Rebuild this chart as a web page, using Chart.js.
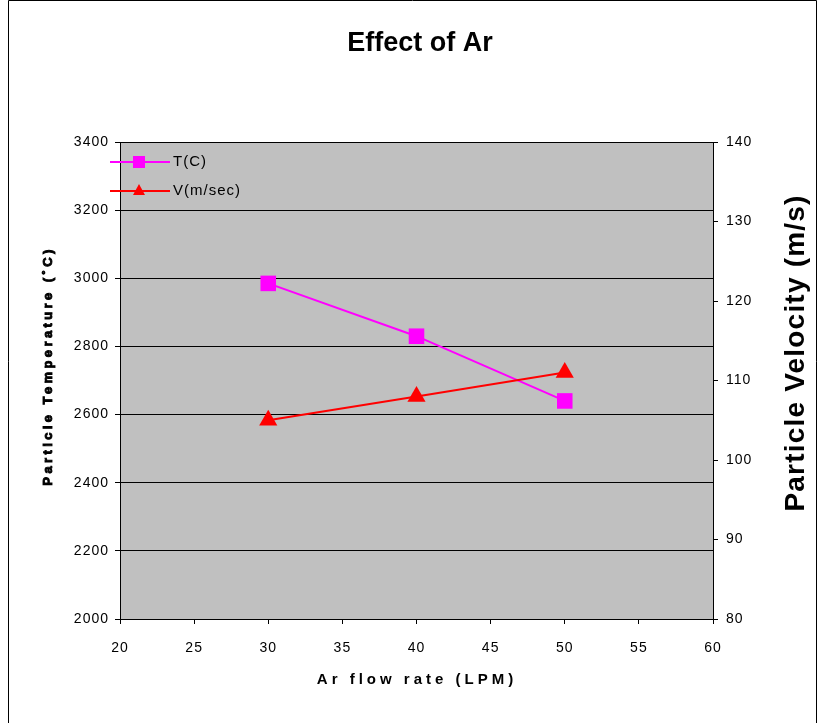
<!DOCTYPE html>
<html>
<head>
<meta charset="utf-8">
<script src="https://cdn.jsdelivr.net/npm/chart.js"></script>
<style>
  html, body { margin: 0; padding: 0; background: #fff; }
  #wrap { width: 818px; height: 723px; }
</style>
</head>
<body>
<div id="wrap"><canvas id="chart" width="818" height="723"></canvas></div>
<script>
// Ar flow rate (LPM)
const flowRates = [30, 40, 50];
// particle temperature, left axis
const temperatures = [2985, 2830, 2640];
// particle velocity, right axis
const velocities = [105, 108, 111];

const tempLabel = 'T(C)';
const velLabel = 'V(m/sec)';

const FONT = '"Liberation Sans", Arial, sans-serif';
const MAGENTA = '#FF00FF';
const RED = '#FF0000';

// gray plot area, outer frame, titles and the legend box
const decorations = {
    id: 'decorations',
    beforeDraw(chart) {
        const { ctx, chartArea: a } = chart;
        ctx.save();
        ctx.fillStyle = '#C0C0C0';
        ctx.fillRect(a.left, a.top, a.right - a.left, a.bottom - a.top);
        ctx.restore();
        // tick labels in the reference are slightly spaced out
        ctx.letterSpacing = '1px';
    },
    afterDraw(chart) {
        const { ctx } = chart;
        ctx.save();
        ctx.letterSpacing = '0px';

        // frame round the picture
        ctx.strokeStyle = '#000';
        ctx.lineWidth = 1;
        ctx.beginPath();
        ctx.moveTo(8.5, 723);
        ctx.lineTo(8.5, 0.5);
        ctx.lineTo(816.5, 0.5);
        ctx.lineTo(816.5, 723);
        ctx.stroke();

        ctx.fillStyle = '#000';
        ctx.textAlign = 'center';

        // chart title
        ctx.textBaseline = 'alphabetic';
        ctx.font = 'bold 27px ' + FONT;
        ctx.fillText('Effect of Ar', 420, 51);

        ctx.textBaseline = 'middle';

        // left axis title (heavy face)
        ctx.save();
        ctx.translate(48, 366);
        ctx.rotate(-Math.PI / 2);
        ctx.font = 'bold 13px ' + FONT;
        ctx.letterSpacing = '3.4px';
        ctx.strokeStyle = '#000';
        ctx.lineWidth = 0.9;
        ctx.fillText('Particle Temperature (˚C)', 0, 0);
        ctx.strokeText('Particle Temperature (˚C)', 0, 0);
        ctx.restore();

        // right axis title
        ctx.save();
        ctx.translate(796, 353);
        ctx.rotate(-Math.PI / 2);
        ctx.font = 'bold 28px ' + FONT;
        ctx.letterSpacing = '1.2px';
        ctx.fillText('Particle Velocity (m/s)', 0, 0);
        ctx.restore();

        // x axis title
        ctx.save();
        ctx.font = 'bold 15px ' + FONT;
        ctx.letterSpacing = '4px';
        ctx.fillText('Ar flow rate (LPM)', 417, 680);
        ctx.restore();

        // legend
        ctx.lineWidth = 2;
        ctx.strokeStyle = MAGENTA;
        ctx.beginPath();
        ctx.moveTo(110, 162);
        ctx.lineTo(170, 162);
        ctx.stroke();
        ctx.fillStyle = MAGENTA;
        ctx.fillRect(133, 156, 12, 12);

        ctx.strokeStyle = RED;
        ctx.beginPath();
        ctx.moveTo(110, 191);
        ctx.lineTo(170, 191);
        ctx.stroke();
        ctx.fillStyle = RED;
        ctx.beginPath();
        ctx.moveTo(139, 184);
        ctx.lineTo(145, 195);
        ctx.lineTo(133, 195);
        ctx.closePath();
        ctx.fill();

        ctx.fillStyle = '#000';
        ctx.textAlign = 'left';
        ctx.font = '15px ' + FONT;
        ctx.letterSpacing = '1px';
        ctx.fillText(tempLabel, 173, 162);
        ctx.fillText(velLabel, 173, 191);
        ctx.restore();
    }
};

document.addEventListener('DOMContentLoaded', function () {
    const ctx = document.getElementById('chart').getContext('2d');

    new Chart(ctx, {
        type: 'line',
        data: {
            datasets: [{
                label: tempLabel,
                data: flowRates.map((x, i) => ({ x: x, y: temperatures[i] })),
                yAxisID: 'y',
                borderColor: MAGENTA,
                backgroundColor: MAGENTA,
                borderWidth: 2,
                pointStyle: 'rect',
                pointRadius: 11,
                pointBorderWidth: 0,
                order: 2
            }, {
                label: velLabel,
                data: flowRates.map((x, i) => ({ x: x, y: velocities[i] })),
                yAxisID: 'y2',
                borderColor: RED,
                backgroundColor: RED,
                borderWidth: 2,
                pointStyle: 'triangle',
                pointRadius: 10.5,
                pointBorderWidth: 0,
                order: 1
            }]
        },
        options: {
            responsive: false,
            animation: false,
            layout: { padding: { top: 142 } },
            plugins: {
                legend: { display: false },
                tooltip: { enabled: false },
                title: { display: false }
            },
            scales: {
                x: {
                    type: 'linear',
                    min: 20,
                    max: 60,
                    afterFit(scale) { scale.height = 104; },
                    ticks: {
                        stepSize: 5,
                        color: '#000',
                        padding: 16,
                        font: { family: FONT, size: 14 }
                    },
                    grid: { drawOnChartArea: false, color: '#000', tickLength: 5 },
                    border: { color: '#000', width: 1 }
                },
                y: {
                    position: 'left',
                    min: 2000,
                    max: 3400,
                    afterFit(scale) { scale.width = 120; },
                    ticks: {
                        stepSize: 200,
                        color: '#000',
                        padding: 6,
                        font: { family: FONT, size: 14 },
                        callback: v => String(v)
                    },
                    grid: { color: '#000', tickLength: 5 },
                    border: { color: '#000', width: 1 }
                },
                y2: {
                    position: 'right',
                    min: 80,
                    max: 140,
                    afterFit(scale) { scale.width = 818 - 713; },
                    ticks: {
                        stepSize: 10,
                        color: '#000',
                        padding: 8,
                        font: { family: FONT, size: 14 },
                        callback: v => String(v)
                    },
                    grid: { drawOnChartArea: false, color: '#000', tickLength: 5 },
                    border: { color: '#000', width: 1 }
                }
            }
        },
        plugins: [decorations]
    });
});
</script>
</body>
</html>
